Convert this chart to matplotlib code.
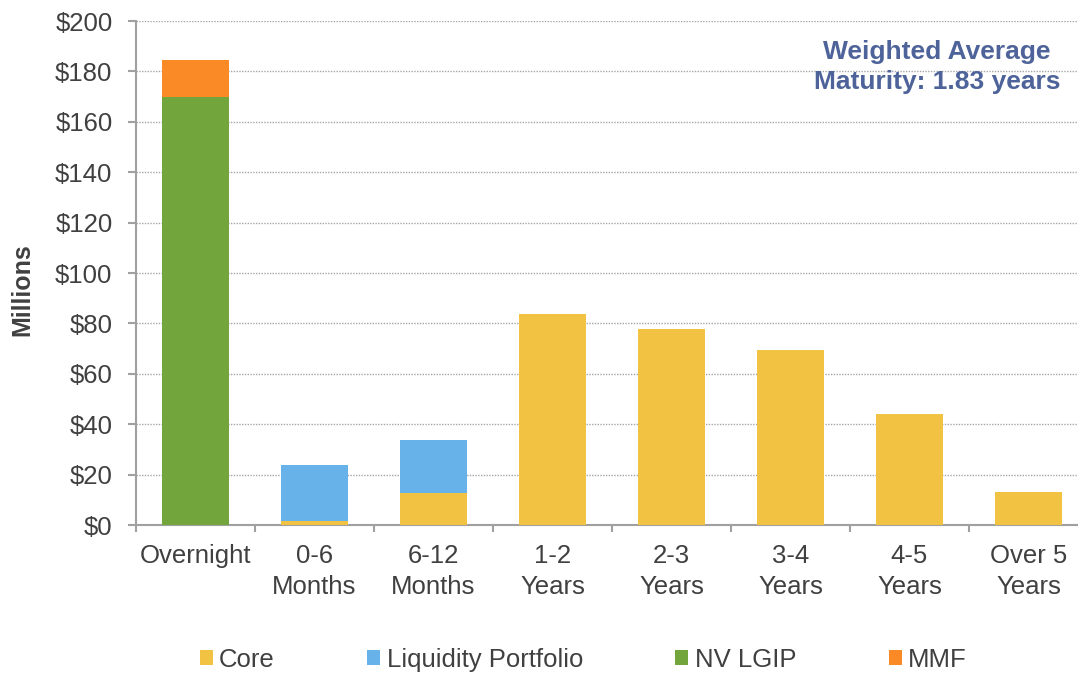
import matplotlib.pyplot as plt
import numpy as np

plt.rcParams['font.family'] = ['Liberation Sans', 'DejaVu Sans']

# maturity buckets
categories = ['Overnight', '0-6\nMonths', '6-12\nMonths', '1-2\nYears',
              '2-3\nYears', '3-4\nYears', '4-5\nYears', 'Over 5\nYears']

# values in $ millions
core = [0, 1.6, 12.6, 83.6, 77.6, 69.6, 44.0, 13.1]
liquidity = [0, 22.2, 21.1, 0, 0, 0, 0, 0]
nv_lgip = [169.8, 0, 0, 0, 0, 0, 0, 0]
mmf = [14.7, 0, 0, 0, 0, 0, 0, 0]

series = [('Core', core, '#F2C343'),
          ('Liquidity Portfolio', liquidity, '#67B2E8'),
          ('NV LGIP', nv_lgip, '#72A53C'),
          ('MMF', mmf, '#F98A26')]

yticks = [0, 20, 40, 60, 80, 100, 120, 140, 160, 180, 200]

txt = '#404040'
axis_col = '#A0A0A0'

fig = plt.figure(figsize=(10.78, 6.74), dpi=100)
ax = fig.add_axes([0.1262, 0.221, 0.883, 0.7478])

x = np.arange(len(categories))
bottom = np.zeros(len(categories))
for name, vals, col in series:
    vals = np.array(vals)
    ax.bar(x, vals, width=0.56, bottom=bottom, color=col, label=name, zorder=3)
    bottom += vals

ax.set_xlim(-0.5, len(categories) - 0.5)
ax.set_ylim(0, 200)
ax.set_yticks(yticks)
ax.set_yticklabels(['$%d' % v for v in yticks])
ax.set_xticks(x)
ax.set_xticklabels(categories, linespacing=1.35)
# category boundary ticks
ax.set_xticks(np.arange(len(categories) + 1) - 0.5, minor=True)

ax.grid(axis='y', linestyle=(0, (1, 1)), color='#A6A6A6', linewidth=1, zorder=0)
ax.set_axisbelow(True)

for s in ['top', 'right']:
    ax.spines[s].set_visible(False)
for s in ['left', 'bottom']:
    ax.spines[s].set_color(axis_col)
    ax.spines[s].set_linewidth(1.5)

ax.tick_params(axis='y', direction='out', length=6, width=1.5, color=axis_col,
               labelsize=18.5, labelcolor=txt, pad=11)
ax.tick_params(axis='x', which='major', length=0, labelsize=18.5,
               labelcolor=txt, pad=14)
ax.tick_params(axis='x', which='minor', direction='out', length=5, width=1.5,
               color=axis_col)

fig.text(22 / 1078, 1 - 290 / 674, 'Millions', rotation=90, ha='center',
         va='center', fontsize=18, fontweight='bold', color=txt)

fig.text(937 / 1078, 1 - 67 / 674, 'Weighted Average\nMaturity: 1.83 years',
         ha='center', va='center', fontsize=19, fontweight='bold',
         color='#4E6399', linespacing=1.35)

fig.legend(loc='center', bbox_to_anchor=(0.541, 0.021), ncol=4, frameon=False,
           fontsize=18.5, handlelength=0.5, handleheight=0.5,
           handletextpad=0.25, columnspacing=3.6, labelcolor=txt)

fig.savefig('out.png', dpi=100)
